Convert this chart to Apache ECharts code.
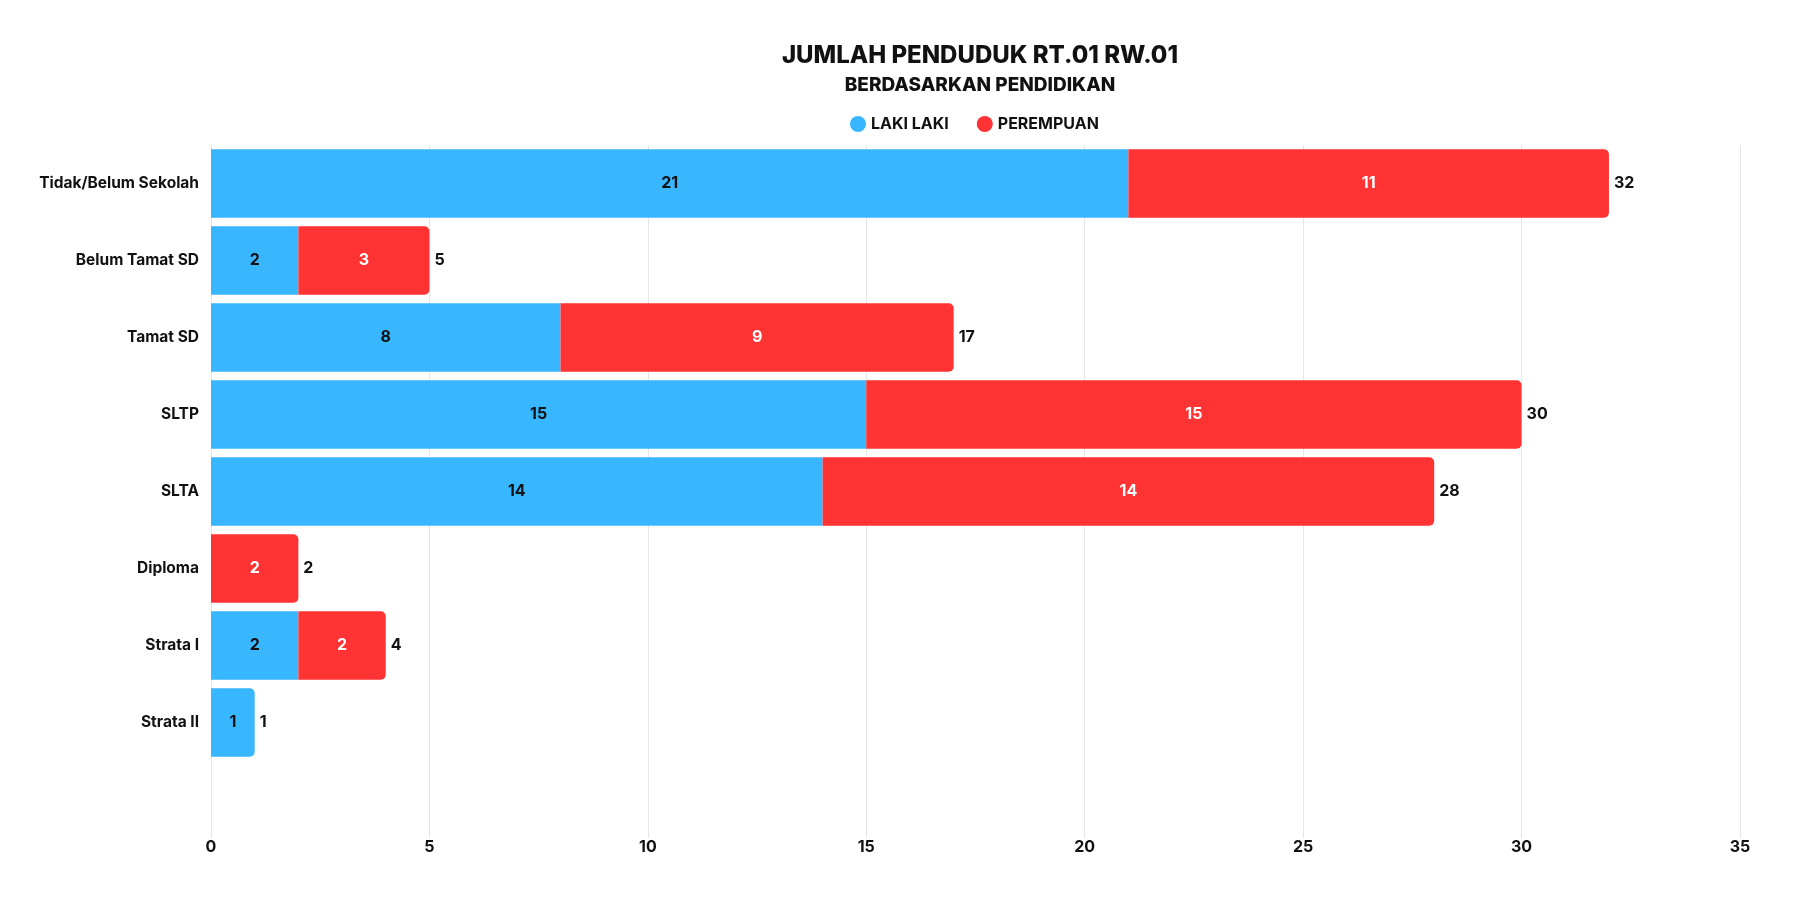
<!DOCTYPE html>
<html>
<head>
<meta charset="utf-8">
<title>Jumlah Penduduk RT.01 RW.01</title>
<script src="https://cdn.jsdelivr.net/npm/echarts@6/dist/echarts.min.js"></script>
<style>
  html, body { margin: 0; padding: 0; background: #fff; }
  #main { width: 1800px; height: 900px; }
</style>
</head>
<body>
<div id="main"></div>
<script>
// kategori pendidikan (baris terakhir kosong seperti di gambar)
const categories = ['Tidak/Belum Sekolah', 'Belum Tamat SD', 'Tamat SD', 'SLTP', 'SLTA', 'Diploma', 'Strata I', 'Strata II', ''];
const lakiLaki = [21, 2, 8, 15, 14, null, 2, 1, null];
const perempuan = [11, 3, 9, 15, 14, 2, 2, null, null];
const xTicks = [0, 5, 10, 15, 20, 25, 30, 35];

const BLUE = '#38B6FF';
const RED = '#FF3333';
const FONT = 'Inter';

// jumlah per baris untuk label di ujung kanan
const totals = categories.map(function (c, i) {
    if (lakiLaki[i] == null && perempuan[i] == null) return null;
    return (lakiLaki[i] || 0) + (perempuan[i] || 0);
});

// sudut membulat hanya di ujung kanan segmen terakhir
const radius = [0, 5, 5, 0];
const blueData = lakiLaki.map(function (v, i) {
    if (v == null) return '-';
    if (perempuan[i] == null) return { value: v, itemStyle: { borderRadius: radius } };
    return v;
});
const redData = perempuan.map(function (v) {
    return v == null ? '-' : { value: v, itemStyle: { borderRadius: radius } };
});

var chart = echarts.init(document.getElementById('main'));

var option = {
    backgroundColor: '#fff',
    textStyle: { fontFamily: FONT },
    title: [
        {
            text: 'JUMLAH PENDUDUK RT.01 RW.01',
            left: 975, top: 39, textAlign: 'center',
            textStyle: { fontFamily: FONT, fontSize: 24, fontWeight: 800, color: '#111' }
        },
        {
            text: 'BERDASARKAN PENDIDIKAN',
            left: 975, top: 71, textAlign: 'center',
            textStyle: { fontFamily: FONT, fontSize: 19, fontWeight: 800, color: '#111' }
        }
    ],
    legend: {
        data: ['LAKI LAKI', 'PEREMPUAN'],
        top: 111,
        left: 845,
        itemGap: 28,
        itemWidth: 16,
        itemHeight: 16,
        icon: 'circle',
        textStyle: { fontFamily: FONT, fontSize: 16, fontWeight: 700, color: '#111' }
    },
    grid: { left: 211, right: 60, top: 145, bottom: 62, containLabel: false },
    xAxis: {
        type: 'value',
        min: 0,
        max: 35,
        interval: 5,
        axisLine: { show: false },
        axisTick: { show: false },
        splitLine: { show: true, lineStyle: { color: '#e6e6e6', width: 1 } },
        axisLabel: {
            margin: 1,
            fontFamily: FONT, fontSize: 16, fontWeight: 700, color: '#111',
            formatter: function (v) { return xTicks.indexOf(v) >= 0 ? String(v) : ''; }
        }
    },
    yAxis: {
        type: 'category',
        inverse: true,
        data: categories,
        axisLine: { show: false },
        axisTick: { show: false },
        axisLabel: { margin: 12, fontFamily: FONT, fontSize: 15.5, fontWeight: 700, color: '#111' }
    },
    series: [
        {
            name: 'LAKI LAKI',
            type: 'bar',
            stack: 'total',
            barCategoryGap: '11%',
            itemStyle: { color: BLUE },
            label: {
                show: true, position: 'inside',
                fontFamily: FONT, fontSize: 16, fontWeight: 700, color: '#111'
            },
            data: blueData
        },
        {
            name: 'PEREMPUAN',
            type: 'bar',
            stack: 'total',
            itemStyle: { color: RED },
            label: {
                show: true, position: 'inside',
                fontFamily: FONT, fontSize: 16, fontWeight: 700, color: '#fff'
            },
            data: redData
        },
        {
            name: 'Jumlah',
            type: 'bar',
            barGap: '-100%',
            barCategoryGap: '11%',
            silent: true,
            z: 1,
            itemStyle: { color: 'rgba(0,0,0,0)' },
            label: {
                show: true, position: 'right', distance: 5,
                fontFamily: FONT, fontSize: 16, fontWeight: 700, color: '#111'
            },
            data: totals.map(function (t) { return t == null ? '-' : t; })
        }
    ]
};

chart.setOption(option);
</script>
</body>
</html>
